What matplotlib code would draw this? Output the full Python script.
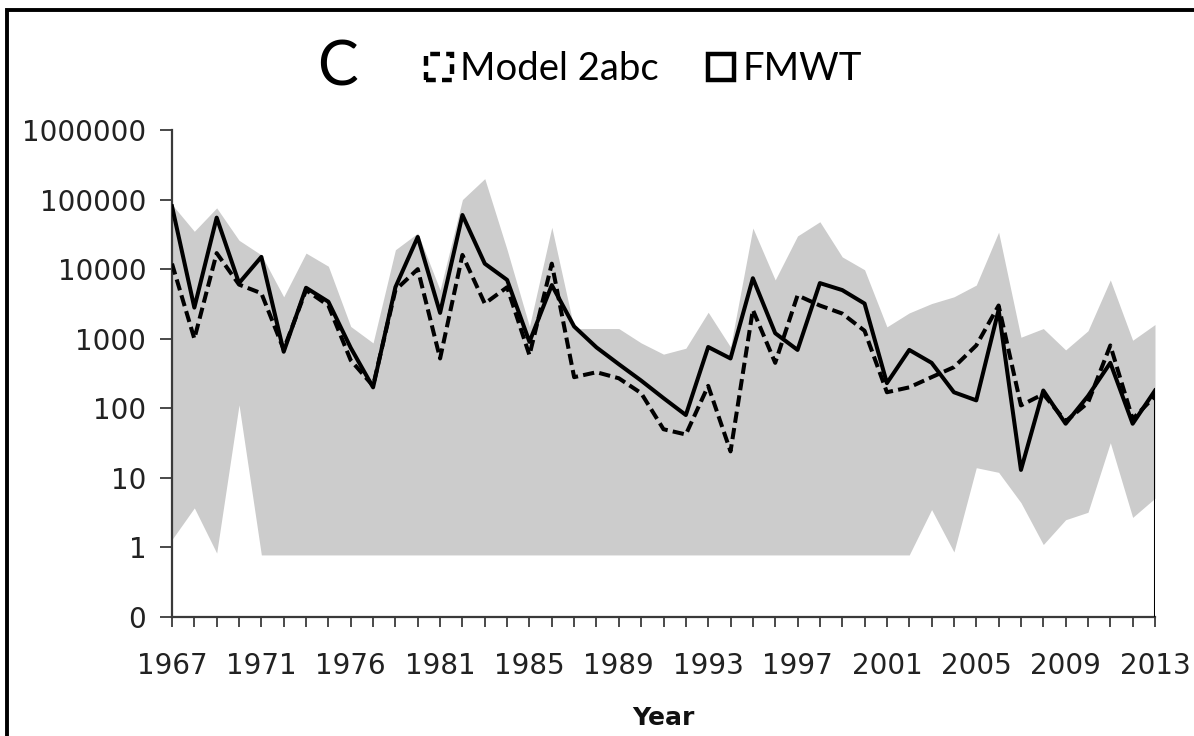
import numpy as np
import matplotlib
matplotlib.use("Agg")
import matplotlib.pyplot as plt
from matplotlib.ticker import NullLocator
from matplotlib.patches import Rectangle
from matplotlib.lines import Line2D

# ---------------- data ----------------
years = [1967, 1968, 1969, 1970, 1971, 1972, 1973, 1975, 1976, 1977, 1978,
         1980, 1981, 1982, 1983, 1984, 1985, 1986, 1987, 1988, 1989, 1990,
         1991, 1992, 1993, 1994, 1995, 1996, 1997, 1998, 1999, 2000, 2001,
         2002, 2003, 2004, 2005, 2006, 2007, 2008, 2009, 2010, 2011, 2012, 2013]

fmwt = [80000, 2800, 55000, 6300, 15000, 650, 5400, 3400, 740, 200, 5500,
        29000, 2350, 60000, 12000, 7000, 900, 5900, 1500, 750, 430, 250,
        140, 80, 760, 520, 7400, 1200, 690, 6300, 5000, 3200, 230,
        690, 450, 170, 130, 2600, 13, 180, 60, 150, 450, 60, 180]

model_2abc = [12000, 1000, 17000, 6000, 4500, 700, 5000, 3000, 490, 210, 5000,
              10000, 520, 16000, 3200, 5500, 580, 12000, 280, 330, 270, 165,
              50, 42, 210, 24, 2600, 450, 4200, 3000, 2300, 1300, 170,
              200, 280, 390, 800, 3000, 110, 160, 65, 120, 800, 70, 150]

upper = [85000, 35000, 76000, 26000, 16000, 4000, 17000, 11000, 1500, 870, 19000,
         33000, 5000, 100000, 200000, 19000, 1500, 40000, 1400, 1400, 1400, 870,
         600, 730, 2400, 760, 39000, 7000, 30000, 48000, 15000, 9800, 1480,
         2350, 3200, 4000, 5900, 34000, 1050, 1400, 690, 1300, 7000, 950, 1600]

lower = [1.3, 3.7, 0.83, 112, 0.78, 0.78, 0.78, 0.78, 0.78, 0.78, 0.78,
         0.78, 0.78, 0.78, 0.78, 0.78, 0.78, 0.78, 0.78, 0.78, 0.78, 0.78,
         0.78, 0.78, 0.78, 0.78, 0.78, 0.78, 0.78, 0.78, 0.78, 0.78, 0.78,
         0.78, 3.5, 0.86, 14, 12, 4.4, 1.1, 2.5, 3.2, 32, 2.7, 5.1]

y_ticks = [0.1, 1, 10, 100, 1000, 10000, 100000, 1000000]
y_tick_labels = ["0", "1", "10", "100", "1000", "10000", "100000", "1000000"]
label_every = 4

# ---------------- figure ----------------
W, H = 1194, 736
fig = plt.figure(figsize=(W / 100, H / 100), dpi=100)
fig.patch.set_facecolor("white")

def fx(px):
    return px / W

def fy(py):
    return 1 - py / H

ax = fig.add_axes([fx(172), fy(617), fx(1155) - fx(172), fy(130) - fy(617)])

x = np.arange(len(years))
ax.fill_between(x, lower, upper, color="#cccccc", linewidth=0, zorder=1)
ax.plot(x, fmwt, color="black", lw=2.9, solid_joinstyle="round", zorder=3)
ax.plot(x, model_2abc, color="black", lw=2.9, dashes=(2.8, 1.3),
        dash_joinstyle="round", zorder=4)
# area-outline drop at the right end of the FMWT series
ax.vlines(x[-1], y_ticks[0], fmwt[-1], color="black", lw=2.2, zorder=3)

ax.set_yscale("log")
ax.set_ylim(y_ticks[0], y_ticks[-1])
ax.set_xlim(x[0], x[-1])
ax.set_yticks(y_ticks, y_tick_labels)
ax.yaxis.set_minor_locator(NullLocator())
ax.set_xticks(x, [str(y) if i % label_every == 0 else "" for i, y in enumerate(years)])
ax.xaxis.set_minor_locator(NullLocator())

for s in ["top", "right"]:
    ax.spines[s].set_visible(False)
for s in ["left", "bottom"]:
    ax.spines[s].set_color("#3a3a3a")
    ax.spines[s].set_linewidth(1.6)

ax.tick_params(axis="x", direction="out", length=7, width=1.3, color="#3a3a3a",
               labelsize=20, pad=18, labelcolor="#222222")
ax.tick_params(axis="y", direction="out", length=8.5, width=1.3, color="#3a3a3a",
               labelsize=20, pad=10, labelcolor="#222222")
for lab in ax.get_xticklabels() + ax.get_yticklabels():
    lab.set_fontfamily("DejaVu Sans")

fig.text(fx(663), fy(718), "Year", ha="center", va="center",
         fontsize=18, fontweight="bold", family="DejaVu Sans", color="#111111")

# title letter and legend
fig.text(fx(337), fy(86), "C", ha="center", va="baseline",
         fontsize=44, family="Lato", color="black")

sq = 26
fig.add_artist(Rectangle((fx(426), fy(80)), fx(sq), sq / H, transform=fig.transFigure,
                         facecolor="none", edgecolor="black", lw=3.2,
                         linestyle=(0, (2.2, 1.4))))
fig.text(fx(460), fy(80), "Model 2abc", ha="left", va="baseline",
         fontsize=27.5, family="Lato", color="black")
fig.add_artist(Rectangle((fx(708), fy(80)), fx(sq), sq / H, transform=fig.transFigure,
                         facecolor="none", edgecolor="black", lw=3.2))
fig.text(fx(742), fy(80), "FMWT", ha="left", va="baseline",
         fontsize=27.5, family="Lato", color="black")

# outer frame (left and top edges visible)
fig.add_artist(Line2D([fx(7), fx(7), 1.02], [-0.02, fy(10), fy(10)],
                      transform=fig.transFigure, color="black", lw=2.8,
                      solid_joinstyle="miter"))

fig.savefig("out.png", dpi=100, facecolor="white")
